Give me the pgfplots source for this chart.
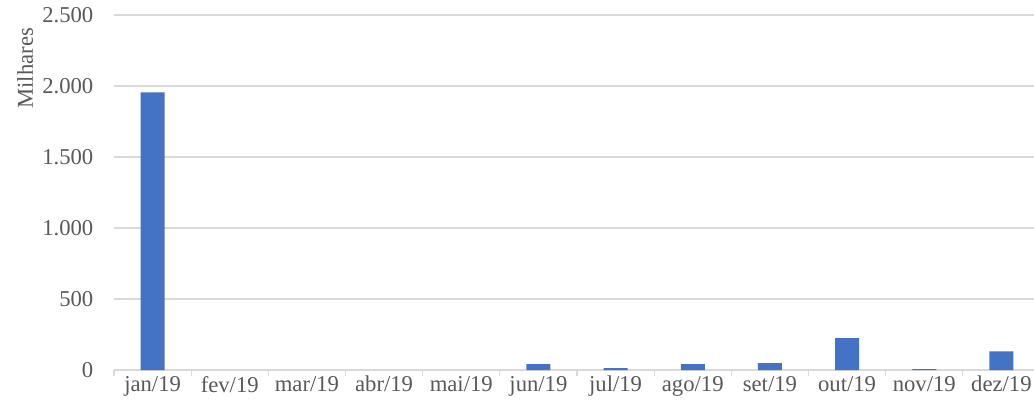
\documentclass[border=0pt]{standalone}
\usepackage{pgfplots}
\pgfplotsset{compat=1.18}
\usepackage{fontspec}
\setmainfont{Liberation Serif}
\definecolor{barblue}{HTML}{4472C4}
\definecolor{gridgray}{HTML}{D9D9D9}
\definecolor{labelgray}{HTML}{595959}
\begin{document}
\begin{tikzpicture}
\begin{axis}[
    at={(0,0)}, anchor=south west,
    scale only axis, width=694.5pt, height=266.25pt,
    xmin=-0.5, xmax=11.5, ymin=0, ymax=2500,
    axis x line=bottom, axis y line=left,
    x axis line style={-, draw=gridgray, line width=0.9pt},
    y axis line style={draw=none},
    ytick={0,500,...,2500},
    ymajorgrids, grid style={gridgray, line width=0.8pt},
    ytick style={draw=none},
    xtick={0,...,11},
    xticklabels={jan/19,fev/19,mar/19,abr/19,mai/19,jun/19,jul/19,ago/19,set/19,out/19,nov/19,dez/19},
    minor xtick={-0.5,0.5,...,11.5},
    tick align=outside, major tick length=0pt, minor tick length=4.5pt,
    minor x tick style={gridgray, line width=0.8pt},
    major x tick style={draw=none},
    /pgf/number format/assume math mode=true,
    /pgf/number format/1000 sep={.},
    ticklabel style={font=\fontsize{17pt}{20pt}\selectfont, text=labelgray},
    yticklabel style={xshift=-12pt},
    xticklabel style={yshift=-1pt},
    ylabel={Milhares},
    ylabel style={at={(ticklabel cs:0.85)}, anchor=near ticklabel, font=\fontsize{17pt}{20pt}\selectfont, text=labelgray},
]
% months with no value (fev-mai) are left out so no sliver is drawn
\addplot[ybar, bar width=18pt, fill=barblue, draw=none] coordinates {
    (0,1955) (5,42)
    (6,14) (7,42) (8,49) (9,225) (10,7) (11,131)
};
\end{axis}
\pgfresetboundingbox
\path (-85.5pt,-31.5pt) rectangle (690pt,277.5pt);
\end{tikzpicture}
\end{document}
